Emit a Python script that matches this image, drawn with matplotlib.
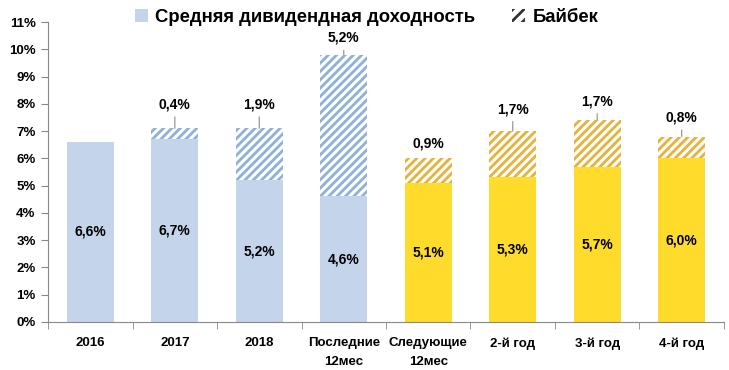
import numpy as np
import matplotlib
matplotlib.use("Agg")
import matplotlib.pyplot as plt
import matplotlib.patches as mpatches

categories = ["2016", "2017", "2018", "Последние\n12мес", "Следующие\n12мес",
              "2-й год", "3-й год", "4-й год"]
dividend = [6.6, 6.7, 5.2, 4.6, 5.1, 5.3, 5.7, 6.0]
buyback = [0.0, 0.4, 1.9, 5.2, 0.9, 1.7, 1.7, 0.8]
# first four are history (blue), the rest are forecast (yellow)
is_forecast = [False, False, False, False, True, True, True, True]
y_ticks = list(range(0, 12))

BLUE = "#C3D4EB"
BLUE_HATCH = "#8DB1DA"
YELLOW = "#FFDB2C"
YELLOW_HATCH = "#E6B23A"
FONT = ["Liberation Sans", "DejaVu Sans"]

# label placement above the hatched part: (offset in px, draw leader line)
label_offset = [0, 24, 24, 17, 15, 22, 19, 19]
label_leader = [False, True, True, True, False, True, True, True]

plt.rcParams["font.family"] = FONT
plt.rcParams["font.weight"] = "bold"
plt.rcParams["hatch.linewidth"] = 2.0

fig = plt.figure(figsize=(7.29, 3.70), dpi=100)
ax = fig.add_axes([0.066, 0.13, 0.927, 0.8105])

x = np.arange(len(categories))
width = 0.555
px2pt = 72 / 100

for i in x:
    solid = YELLOW if is_forecast[i] else BLUE
    hatch_col = YELLOW_HATCH if is_forecast[i] else BLUE_HATCH
    ax.bar(i, dividend[i], width, color=solid, linewidth=0)
    ax.text(i, dividend[i] / 2, f"{dividend[i]:.1f}%".replace(".", ","),
            ha="center", va="center", fontsize=10, fontweight="bold")
    if buyback[i] > 0:
        ax.bar(i, buyback[i], width, bottom=dividend[i], facecolor="white",
               edgecolor=hatch_col, hatch="////", linewidth=0)
        top = dividend[i] + buyback[i]
        label = f"{buyback[i]:.1f}%".replace(".", ",")
        props = None
        if label_leader[i]:
            props = dict(arrowstyle="-", color="#999999", lw=0.9, shrinkA=2, shrinkB=0)
        ax.annotate(label, (i, top), xytext=(0, label_offset[i] * px2pt),
                    textcoords="offset points", ha="center", va="center",
                    fontsize=10, fontweight="bold", arrowprops=props)

ax.set_xlim(-0.5, len(categories) - 0.5)
ax.set_ylim(0, 11)
ax.set_yticks(y_ticks)
ax.set_yticklabels([f"{t}%" for t in y_ticks], fontsize=9.5, fontweight="bold")
ax.set_xticks(x)
ax.set_xticklabels(categories, fontsize=9.5, fontweight="bold", linespacing=1.75)
ax.set_xticks(np.arange(-0.5, len(categories)), minor=True)
ax.tick_params(axis="x", which="major", length=0, pad=11)
ax.tick_params(axis="x", which="minor", length=5, color="#888888")
ax.tick_params(axis="y", length=5, color="#888888", pad=4)

for side in ("top", "right"):
    ax.spines[side].set_visible(False)
for side in ("left", "bottom"):
    ax.spines[side].set_color("#888888")

handles = [
    mpatches.Patch(facecolor=BLUE, linewidth=0, label="Средняя дивидендная доходность"),
    mpatches.Patch(facecolor="white", edgecolor="#333333", hatch="///", linewidth=0,
                   label="Байбек"),
]
fig.legend(handles=handles, loc="upper center", bbox_to_anchor=(0.503, 1.02), ncol=2,
           frameon=False, prop={"family": FONT, "weight": "bold", "size": 13.3},
           handlelength=0.7, handleheight=0.7, handletextpad=0.4, columnspacing=2.0)

fig.savefig("out.png", dpi=100)
